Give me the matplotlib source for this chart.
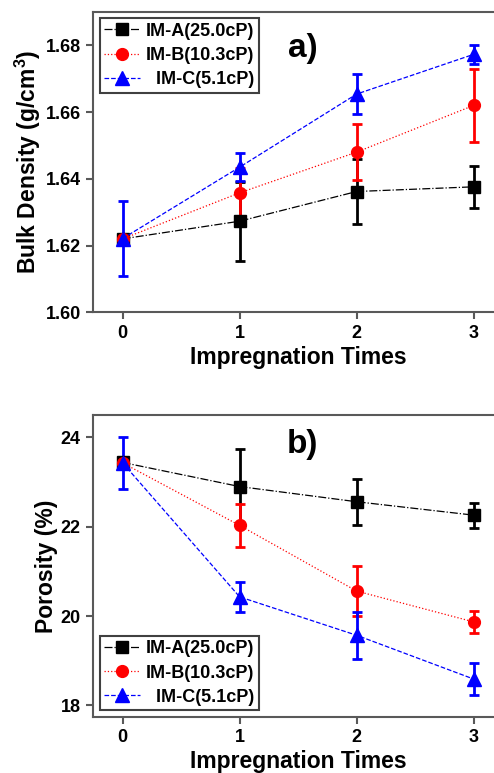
import matplotlib as mpl
import matplotlib.pyplot as plt

# impregnation count
times = [0, 1, 2, 3]
series_labels = ["IM-A(25.0cP)", "IM-B(10.3cP)", "  IM-C(5.1cP)"]

# bulk density (g/cm3) and its error
density_a = [1.622, 1.6273, 1.6362, 1.6376]
density_a_err = [0.001, 0.0118, 0.0096, 0.0063]
density_b = [1.622, 1.6358, 1.648, 1.6620]
density_b_err = [0.0012, 0.0073, 0.0085, 0.011]
density_c = [1.6221, 1.6435, 1.6654, 1.6773]
density_c_err = [0.0113, 0.0042, 0.006, 0.0028]

# porosity (%) and its error
poro_a = [23.44, 22.90, 22.56, 22.26]
poro_a_err = [0.05, 0.85, 0.52, 0.28]
poro_b = [23.43, 22.03, 20.56, 19.87]
poro_b_err = [0.10, 0.49, 0.56, 0.24]
poro_c = [23.43, 20.43, 19.57, 18.59]
poro_c_err = [0.58, 0.34, 0.53, 0.35]

mpl.rcParams.update(
    {
        "font.family": ["Liberation Sans", "DejaVu Sans"],
        "font.weight": "bold",
        "axes.labelweight": "bold",
        "mathtext.fontset": "custom",
        "mathtext.rm": "Liberation Sans:bold",
        "mathtext.bf": "Liberation Sans:bold",
        "mathtext.it": "Liberation Sans:bold",
    }
)

styles = [
    dict(color="black", marker="s", ls="-.", ms=8),
    dict(color="red", marker="o", ls=":", ms=8.5),
    dict(color="blue", marker="^", ls="--", ms=10),
]

fig = plt.figure(figsize=(4.94, 7.73), dpi=100)
ax1 = fig.add_axes([0.189, 0.596, 0.829, 0.3885])
ax2 = fig.add_axes([0.189, 0.073, 0.829, 0.390])


def draw(ax, ys, errs, loc):
    handles = []
    for y, e, st, lab in zip(ys, errs, styles, series_labels):
        cont = ax.errorbar(
            times, y, yerr=e, color=st["color"], marker=st["marker"],
            ms=st["ms"], ls=st["ls"], lw=0.9, elinewidth=2.0,
            capsize=3.5, capthick=2.0, label=lab,
        )
        handles.append(cont[0])
    ax.set_xlim(-0.25, 3.25)
    ax.set_xticks(times)
    for s in ax.spines.values():
        s.set_color("0.35")
        s.set_linewidth(1.5)
    ax.spines["right"].set_visible(False)
    ax.tick_params(direction="out", length=5, width=1.5, color="0.35",
                   labelsize=13, pad=4)
    ax.set_xlabel("Impregnation Times", fontsize=16.5, labelpad=3)
    leg = ax.legend(handles=handles, labels=series_labels, loc=loc,
                    fontsize=13, fancybox=False, framealpha=1,
                    edgecolor="0.25", handlelength=2.0, handletextpad=0.3,
                    borderpad=0.25, labelspacing=0.4, borderaxespad=0.35)
    leg.get_frame().set_linewidth(1.5)
    return leg


draw(ax1, [density_a, density_b, density_c],
     [density_a_err, density_b_err, density_c_err], "upper left")
ax1.set_ylim(1.60, 1.69)
ax1.set_yticks([1.60, 1.62, 1.64, 1.66, 1.68])
ax1.set_yticklabels(["1.60", "1.62", "1.64", "1.66", "1.68"])
ax1.set_ylabel(r"Bulk Density (g/cm$^3$)", fontsize=16.5, labelpad=2)
ax1.text(1.54, 1.679, "a)", fontsize=24, fontweight="bold",
         ha="center", va="center")

draw(ax2, [poro_a, poro_b, poro_c], [poro_a_err, poro_b_err, poro_c_err],
     "lower left")
ax2.set_ylim(17.75, 24.5)
ax2.set_yticks([18, 20, 22, 24])
ax2.set_ylabel("Porosity (%)", fontsize=16.5, labelpad=2)
ax2.text(1.54, 23.85, "b)", fontsize=24, fontweight="bold",
         ha="center", va="center")

fig.savefig("out.png", dpi=100)
